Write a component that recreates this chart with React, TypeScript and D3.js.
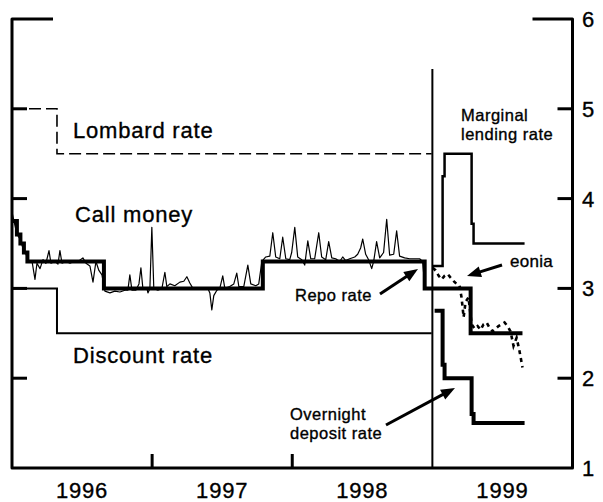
import React from "react";
import * as d3 from "d3";

// time in decimal years, values in percent
const repoRate: [number, number][] = [
  [1996.0, 3.75], [1996.035, 3.6], [1996.06, 3.5], [1996.085, 3.4], [1996.11, 3.3],
  [1996.656, 3.0], [1997.79, 3.3], [1998.945, 3.0], [1999.273, 2.5], [1999.643, 2.5],
];
const discountRate: [number, number][] = [
  [1996.0, 3.0], [1996.321, 2.5], [1998.995, 2.5],
];
const lombardRate: [number, number][] = [
  [1996.0, 5.0], [1996.321, 4.5], [1998.995, 4.5],
];
const marginalLending: [number, number][] = [
  [1999.002, 3.25], [1999.073, 4.25], [1999.087, 4.5], [1999.28, 3.72], [1999.294, 3.5], [1999.658, 3.5],
];
const overnightDeposit: [number, number][] = [
  [1999.016, 2.75], [1999.073, 2.15], [1999.087, 2.0], [1999.28, 1.6], [1999.294, 1.5], [1999.658, 1.5],
];
const callMoney: [number, number][] = [
  [1996.0, 3.85], [1996.014, 3.75], [1996.036, 3.6], [1996.057, 3.55], [1996.078, 3.45],
  [1996.1, 3.38], [1996.121, 3.3], [1996.143, 3.3], [1996.164, 3.1], [1996.178, 3.28],
  [1996.2, 3.22], [1996.221, 3.32], [1996.242, 3.28], [1996.264, 3.42], [1996.278, 3.28],
  [1996.307, 3.3], [1996.328, 3.27], [1996.342, 3.42], [1996.357, 3.28], [1996.385, 3.3],
  [1996.414, 3.28], [1996.442, 3.3], [1996.471, 3.3], [1996.506, 3.34], [1996.528, 3.28],
  [1996.556, 3.25], [1996.578, 3.07], [1996.599, 3.3], [1996.62, 3.2], [1996.642, 3.15],
  [1996.663, 2.97], [1996.699, 2.95], [1996.734, 2.97], [1996.77, 2.96], [1996.806, 2.98],
  [1996.827, 2.98], [1996.841, 3.15], [1996.856, 2.98], [1996.884, 2.98], [1996.906, 3.05],
  [1996.92, 3.23], [1996.934, 3.0], [1996.963, 3.0], [1996.97, 2.95], [1996.984, 3.0],
  [1996.998, 3.68], [1997.012, 3.0], [1997.041, 2.98], [1997.07, 3.0], [1997.091, 3.18],
  [1997.105, 3.02], [1997.127, 3.05], [1997.162, 3.03], [1997.198, 3.07], [1997.226, 3.08],
  [1997.248, 3.13], [1997.269, 3.06], [1997.291, 3.0], [1997.34, 3.0], [1997.398, 3.0],
  [1997.412, 2.95], [1997.426, 2.76], [1997.44, 2.92], [1997.462, 2.98], [1997.483, 3.0],
  [1997.504, 3.14], [1997.519, 3.0], [1997.554, 3.02], [1997.583, 3.05], [1997.604, 3.17],
  [1997.619, 3.02], [1997.654, 3.02], [1997.683, 3.26], [1997.704, 3.05], [1997.74, 3.03],
  [1997.761, 3.05], [1997.783, 3.3], [1997.811, 3.35], [1997.84, 3.36], [1997.861, 3.62],
  [1997.882, 3.35], [1997.911, 3.33], [1997.932, 3.57], [1997.954, 3.33], [1997.982, 3.32],
  [1997.996, 3.4], [1998.018, 3.68], [1998.039, 3.35], [1998.068, 3.32], [1998.089, 3.26],
  [1998.111, 3.53], [1998.132, 3.33], [1998.16, 3.33], [1998.189, 3.62], [1998.21, 3.35],
  [1998.239, 3.32], [1998.26, 3.52], [1998.282, 3.34], [1998.31, 3.33], [1998.339, 3.3],
  [1998.36, 3.35], [1998.381, 3.31], [1998.41, 3.33], [1998.446, 3.35], [1998.467, 3.38],
  [1998.488, 3.45], [1998.503, 3.55], [1998.524, 3.38], [1998.545, 3.32], [1998.567, 3.22],
  [1998.581, 3.3], [1998.602, 3.52], [1998.624, 3.34], [1998.652, 3.4], [1998.674, 3.77],
  [1998.695, 3.37], [1998.724, 3.38], [1998.745, 3.64], [1998.766, 3.36], [1998.802, 3.34],
  [1998.838, 3.33], [1998.873, 3.33], [1998.909, 3.33], [1998.93, 3.3], [1998.945, 3.05],
];
const eonia: [number, number][] = [
  [1999.002, 3.23], [1999.023, 3.2], [1999.045, 3.14], [1999.066, 3.1], [1999.087, 3.14],
  [1999.109, 3.16], [1999.13, 3.12], [1999.152, 3.08], [1999.173, 3.05], [1999.194, 3.03],
  [1999.208, 2.9], [1999.223, 2.68], [1999.237, 2.85], [1999.258, 2.9], [1999.28, 2.6],
  [1999.302, 2.55], [1999.323, 2.58], [1999.344, 2.54], [1999.365, 2.6], [1999.387, 2.62],
  [1999.408, 2.56], [1999.43, 2.52], [1999.451, 2.55], [1999.472, 2.58], [1999.494, 2.6],
  [1999.515, 2.62], [1999.537, 2.58], [1999.558, 2.52], [1999.579, 2.36], [1999.601, 2.45],
  [1999.622, 2.3], [1999.643, 2.12],
];
const yearLabels = ["1996", "1997", "1998", "1999"];
const yTicks = [1, 2, 3, 4, 5, 6];
const innerTicks = [2, 3, 4, 5];

const W = 603;
const H = 502;
const FONT = "'Liberation Sans', Arial, Helvetica, sans-serif";
const TXT = { fill: "#000", stroke: "#000", strokeWidth: 0.35 };

function Arrow({ x1, y1, x2, y2 }: { x1: number; y1: number; x2: number; y2: number }) {
  const dx = x2 - x1, dy = y2 - y1;
  const len = Math.hypot(dx, dy);
  const ux = dx / len, uy = dy / len;
  const hl = 14, hw = 5.5;
  const bx = x2 - ux * hl, by = y2 - uy * hl;
  const px = -uy, py = ux;
  return (
    <g>
      <line x1={x1} y1={y1} x2={bx + ux * 2} y2={by + uy * 2} stroke="#000" strokeWidth={3} />
      <path d={`M${x2},${y2}L${bx + px * hw},${by + py * hw}L${bx - px * hw},${by - py * hw}Z`} fill="#000" />
    </g>
  );
}

export default function App() {
  const x = d3.scaleLinear().domain([1996, 2000]).range([12, 572.5]);
  const y = d3.scaleLinear().domain([1, 6]).range([468, 19]);
  const step = d3.line<[number, number]>().x((d) => x(d[0])).y((d) => y(d[1])).curve(d3.curveStepAfter);
  const lin = d3.line<[number, number]>().x((d) => x(d[0])).y((d) => y(d[1]));

  const x0 = x(1996), x1 = x(2000), yb = y(1), yt = y(6);

  return (
    <svg width={W} height={H} style={{ position: "absolute", left: 0, top: 0, background: "#fff" }} fontFamily={FONT}>
      {/* series */}
      <path d={step(lombardRate)!} fill="none" stroke="#000" strokeWidth={1.6} strokeDasharray="12,5" />
      <path d={step(discountRate)!} fill="none" stroke="#000" strokeWidth={2} />
      <path d={lin(callMoney)!} fill="none" stroke="#000" strokeWidth={1.2} strokeLinejoin="round" />
      <path d={step(repoRate)!} fill="none" stroke="#000" strokeWidth={4} />
      <path d={step(marginalLending)!} fill="none" stroke="#000" strokeWidth={2.5} />
      <path d={step(overnightDeposit)!} fill="none" stroke="#000" strokeWidth={4} />
      <path d={lin(eonia)!} fill="none" stroke="#000" strokeWidth={2.6} strokeDasharray="4,4" />

      {/* euro start line */}
      <line x1={x(1999)} x2={x(1999)} y1={69} y2={yb} stroke="#000" strokeWidth={2} />

      {/* frame */}
      <path
        d={`M${x0 + 41},${yt}H${x0}V${yb}H${x1}V${yt}H${x1 - 40}`}
        fill="none" stroke="#000" strokeWidth={3} strokeLinejoin="round"
      />
      {innerTicks.map((t) => (
        <g key={t}>
          <line x1={x0} x2={x0 + 15} y1={y(t)} y2={y(t)} stroke="#000" strokeWidth={3} />
          <line x1={x1 - 15} x2={x1} y1={y(t)} y2={y(t)} stroke="#000" strokeWidth={3} />
        </g>
      ))}
      {[1997, 1998].map((t) => (
        <line key={t} x1={x(t)} x2={x(t)} y1={yb} y2={yb - 14} stroke="#000" strokeWidth={3} />
      ))}

      {/* tick labels */}
      {yTicks.map((t) => (
        <text key={t} x={582} y={y(t)} dy="0.36em" fontSize={22} {...TXT}>{t}</text>
      ))}
      {yearLabels.map((lab, i) => (
        <text key={lab} x={(x(1996 + i) + x(1997 + i)) / 2} y={498} fontSize={22} letterSpacing={0.8} textAnchor="middle" {...TXT}>{lab}</text>
      ))}

      {/* labels */}
      <text x={73} y={138} fontSize={22} letterSpacing={0.8} {...TXT}>Lombard rate</text>
      <text x={75} y={222} fontSize={22} letterSpacing={0.8} {...TXT}>Call money</text>
      <text x={73} y={363} fontSize={22} letterSpacing={0.8} {...TXT}>Discount rate</text>
      <text x={295} y={301} fontSize={16.5} letterSpacing={0.5} {...TXT}>Repo rate</text>
      <text x={510} y={267} fontSize={17} letterSpacing={0.3} {...TXT}>eonia</text>
      <text x={461} y={121} fontSize={16.5} letterSpacing={0.5} {...TXT}>
        <tspan x={461}>Marginal</tspan>
        <tspan x={461} dy={19}>lending rate</tspan>
      </text>
      <text x={290} y={420} fontSize={16.5} letterSpacing={0.5} {...TXT}>
        <tspan x={290}>Overnight</tspan>
        <tspan x={290} dy={19}>deposit rate</tspan>
      </text>

      <Arrow x1={380} y1={294} x2={418} y2={269} />
      <Arrow x1={502} y1={265} x2={467} y2={276} />
      <Arrow x1={386} y1={425} x2={455} y2={388} />
    </svg>
  );
}
